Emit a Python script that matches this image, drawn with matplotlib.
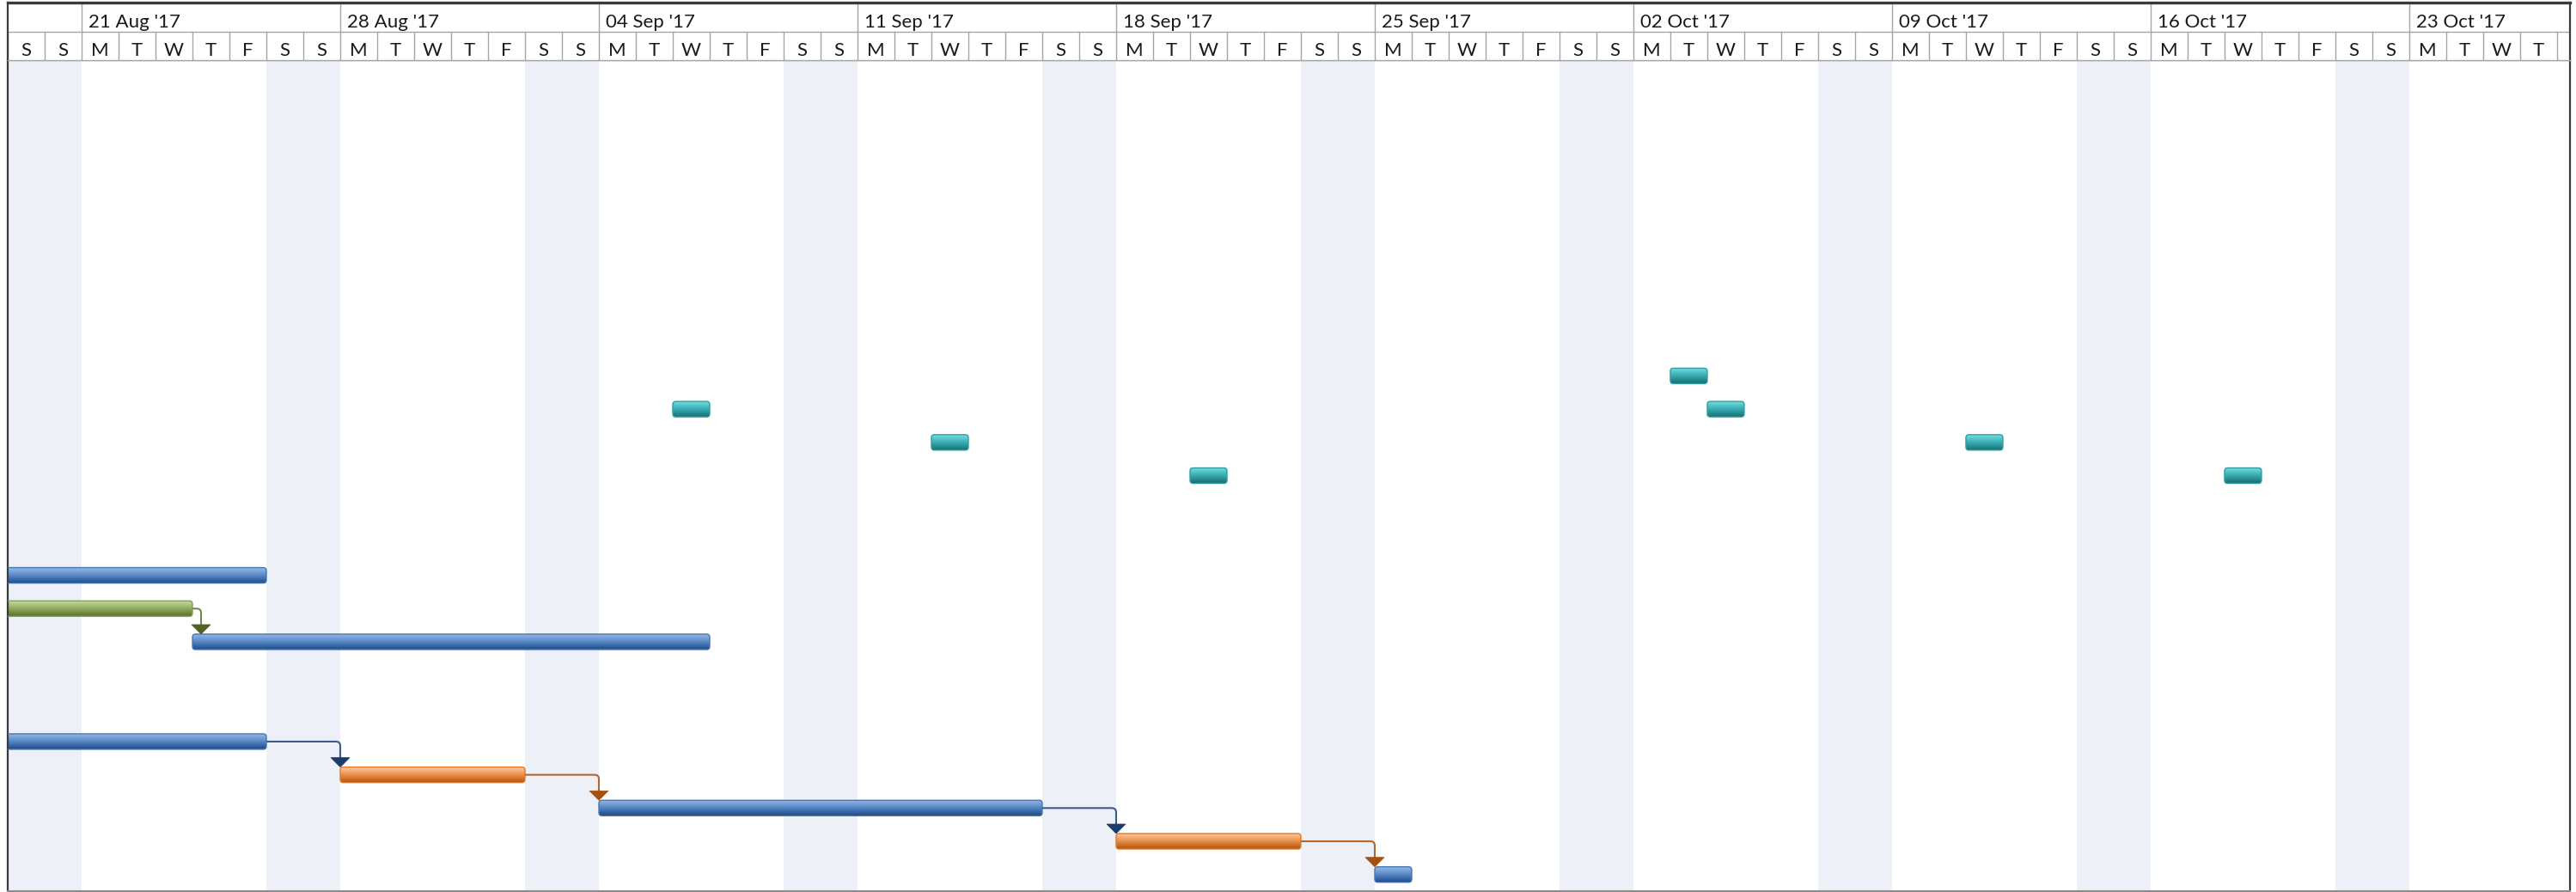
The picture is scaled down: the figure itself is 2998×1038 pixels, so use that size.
import numpy as np
import matplotlib
matplotlib.use("Agg")
import matplotlib.pyplot as plt
import matplotlib.dates as mdates
from matplotlib.colors import LinearSegmentedColormap
from matplotlib.patches import FancyBboxPatch, Polygon, PathPatch, Rectangle
from matplotlib.path import Path
import datetime as dt

# 数据: 每个任务条 (行号, 开始日期, 结束日期(不含), 类型)
bar_rows = [9, 10, 10, 11, 11, 12, 12, 15, 16, 17, 20, 21, 22, 23, 24]
bar_starts = ["2017-10-03", "2017-09-06", "2017-10-04", "2017-09-13", "2017-10-11",
              "2017-09-20", "2017-10-18", "2017-08-14", "2017-08-14", "2017-08-24",
              "2017-08-14", "2017-08-28", "2017-09-04", "2017-09-18", "2017-09-25"]
bar_ends = ["2017-10-04", "2017-09-07", "2017-10-05", "2017-09-14", "2017-10-12",
            "2017-09-21", "2017-10-19", "2017-08-26", "2017-08-24", "2017-09-07",
            "2017-08-26", "2017-09-02", "2017-09-16", "2017-09-23", "2017-09-26"]
bar_kinds = ["teal", "teal", "teal", "teal", "teal", "teal", "teal",
             "blue", "green", "blue", "blue", "orange", "blue", "orange", "blue"]

# 依赖关系 (前置任务下标, 后续任务下标)
link_from = [8, 10, 11, 12, 13]
link_to = [9, 11, 12, 13, 14]

view_start = "2017-08-19"
view_days = 69.35
n_rows = 25

# 颜色: 上 / 中 / 下 渐变, 边框, 连线, 箭头
palette = {
    "blue":   ("#93b7e4", "#5585c4", "#1f4a85", "#4676b4", "#3a5b8c", "#1d3c6e"),
    "teal":   ("#74dde2", "#36acb1", "#1d6f74", "#2f9ea3", "#2a8a8e", "#1d6f74"),
    "green":  ("#c6da9f", "#93ac5e", "#5a6f2c", "#86a052", "#6f8a45", "#4f6228"),
    "orange": ("#f9c7a0", "#e98d45", "#ad520c", "#e07a2a", "#b8642a", "#a5500f"),
}
weekend_color = "#edf1f7"
grid_color = "#a6a6a6"

W, H, DPI = 2998, 1038, 100
fig = plt.figure(figsize=(W / DPI, H / DPI), dpi=DPI)
fig.patch.set_facecolor("white")

x0 = mdates.date2num(dt.datetime.strptime(view_start, "%Y-%m-%d"))
x1 = x0 + view_days

ax = fig.add_axes([9 / W, 1 / H, (2991 - 9) / W, (1037 - 70) / H])
hax = fig.add_axes([9 / W, (H - 70) / H, (2991 - 9) / W, (70 - 3) / H], sharex=ax)

# 周末阴影
days = np.arange(np.floor(x0), np.ceil(x1) + 1)
for d in days:
    wd = mdates.num2date(d).weekday()
    if wd >= 5:
        ax.axvspan(d, d + 1, color=weekend_color, lw=0, zorder=0)

# 像素换算 (用于圆角和箭头大小)
px_x = view_days / (2991 - 9)
px_y = n_rows / (1037 - 70)
bar_h = 18 * px_y


def draw_bar(row, start, end, kind):
    c_top, c_mid, c_bot, c_edge, _, _ = palette[kind]
    cmap = LinearSegmentedColormap.from_list(kind, [c_top, c_mid, c_bot])
    y_top = row + 0.5 - bar_h / 2
    patch = FancyBboxPatch((start, y_top), end - start, bar_h,
                           boxstyle="round,pad=0,rounding_size=%f" % (3.5 * px_x),
                           mutation_aspect=px_y / px_x,
                           facecolor="none", edgecolor=c_edge, lw=1.0, zorder=3)
    ax.add_patch(patch)
    grad = np.linspace(0, 1, 64).reshape(-1, 1)
    im = ax.imshow(grad, extent=[start, end, y_top + bar_h, y_top], aspect="auto",
                   cmap=cmap, interpolation="bilinear", zorder=2, origin="upper")
    im.set_clip_path(patch)


starts = [mdates.date2num(dt.datetime.strptime(s, "%Y-%m-%d")) for s in bar_starts]
ends = [mdates.date2num(dt.datetime.strptime(s, "%Y-%m-%d")) for s in bar_ends]

for r, s, e, k in zip(bar_rows, starts, ends, bar_kinds):
    draw_bar(r, s, e, k)

# 依赖连线
for a, b in zip(link_from, link_to):
    _, _, _, _, c_line, c_arrow = palette[bar_kinds[a]]
    ya = bar_rows[a] + 0.5
    xa = ends[a]
    xt = max(starts[b], ends[a] + 10 * px_x)
    yb_top = bar_rows[b] + 0.5 - bar_h / 2
    ah = 11 * px_y
    aw = 11 * px_x
    rx, ry = 5 * px_x, 5 * px_y
    verts = [(xa, ya), (xt - rx, ya), (xt, ya), (xt, ya + ry), (xt, yb_top - ah + 0.01)]
    codes = [Path.MOVETO, Path.LINETO, Path.CURVE3, Path.CURVE3, Path.LINETO]
    ax.add_patch(PathPatch(Path(verts, codes), facecolor="none", edgecolor=c_line,
                           lw=1.5, zorder=4))
    ax.add_patch(Polygon([(xt - aw, yb_top - ah), (xt + aw, yb_top - ah), (xt, yb_top)],
                         closed=True, facecolor=c_arrow, edgecolor=c_arrow, lw=0.5, zorder=5))

ax.set_xlim(x0, x1)
ax.set_ylim(n_rows, 0)
ax.set_xticks([])
ax.set_yticks([])
for side in ["left", "right"]:
    ax.spines[side].set_color("#3a3a3a")
    ax.spines[side].set_linewidth(1.6)
ax.spines["bottom"].set_color("#8c8c8c")
ax.spines["bottom"].set_linewidth(1.5)
ax.spines["top"].set_color(grid_color)
ax.spines["top"].set_linewidth(1.0)

# 表头: 周 / 日
hax.set_ylim(2, 0)
hax.set_facecolor("white")
hax.tick_params(left=False, bottom=False, labelleft=False, labelbottom=False)
hax.axhline(1, color=grid_color, lw=1.0)
day_letters = ["M", "T", "W", "T", "F", "S", "S"]
font = ["Lato", "DejaVu Sans"]
for d in days:
    date = mdates.num2date(d)
    wd = date.weekday()
    hax.plot([d, d], [1, 2], color=grid_color, lw=1.0)
    hax.text(d + 0.5, 1.86, day_letters[wd], ha="center", va="baseline",
             fontsize=16, family=font, color="#1a1a1a", clip_on=True)
    if wd == 0:
        hax.plot([d, d], [0, 1], color=grid_color, lw=1.0)
        hax.text(d + 8 * px_x, 0.88, date.strftime("%d %b '%y"), ha="left",
                 va="baseline", fontsize=16, family=font, color="#1a1a1a", clip_on=True)
for side in ["left", "right", "top"]:
    hax.spines[side].set_color("#3a3a3a")
    hax.spines[side].set_linewidth(1.6)
hax.spines["top"].set_linewidth(2.4)
hax.spines["bottom"].set_color(grid_color)
hax.spines["bottom"].set_linewidth(1.0)
hax.set_xlim(x0, x1)

fig.savefig("out.png", dpi=DPI)
plt.close(fig)
